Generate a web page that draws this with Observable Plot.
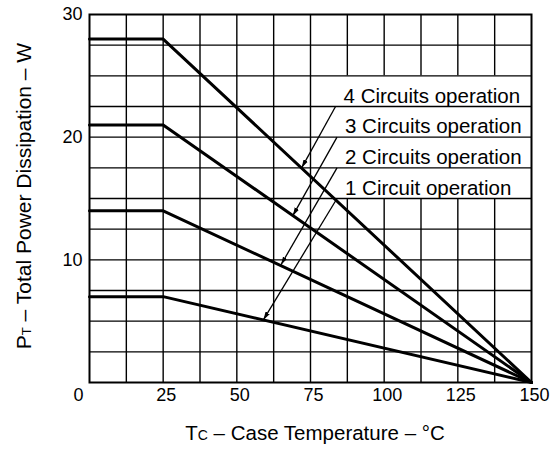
<!DOCTYPE html>
<html><head><meta charset="utf-8">
<script src="https://cdn.jsdelivr.net/npm/d3@7"></script>
<script src="https://cdn.jsdelivr.net/npm/@observablehq/plot@0.6"></script>
<style>body{margin:0;background:#fff;} svg{display:block;}</style>
</head><body><div id="chart"></div>
<script>
// ---- data ----
const caseTemp = [0, 25, 150];              // °C
const power4 = [28, 28, 0];                 // W, 4 circuits
const power3 = [21, 21, 0];
const power2 = [14, 14, 0];
const power1 = [7, 7, 0];
const seriesNames = ["4 Circuits operation", "3 Circuits operation", "2 Circuits operation", "1 Circuit operation"];
const leaderStartX = [83.5, 84, 84, 84];
const leaderStartY = [22.5, 20, 17.5, 15];
const arrowTipX = [72, 69, 65, 59];
const arrowTipY = [17.5, 13.6, 9.6, 5.1];
const xTicks = [0, 25, 50, 75, 100, 125, 150];
const yTicks = [10, 20, 30];
const xGrid = [12.5, 25, 37.5, 50, 62.5, 75, 87.5, 100, 112.5, 125, 137.5];
const yGrid = [2.5, 5, 7.5, 10, 12.5, 15, 17.5, 20, 22.5, 25, 27.5];

const seriesPower = [power4, power3, power2, power1];
const rows = [];
seriesPower.forEach((arr, s) => arr.forEach((p, i) => rows.push({series: seriesNames[s], t: caseTemp[i], p})));

// vertical grid lines are interrupted behind the label block
const gapLeft = Math.min(...leaderStartX);
const gapBottom = Math.min(...leaderStartY);
const gapTop = Math.max(...leaderStartY) + 2.5;
const vSegs = [];
xGrid.forEach(x => {
  if (x > gapLeft) { vSegs.push({x, y1: 0, y2: gapBottom}); vSegs.push({x, y1: gapTop, y2: 30}); }
  else vSegs.push({x, y1: 0, y2: 30});
});

const plot = Plot.plot({
  width: 560, height: 451,
  marginLeft: 89, marginRight: 29, marginTop: 14, marginBottom: 69,
  style: {fontFamily: "'Liberation Sans', Arial, sans-serif", fontSize: "18px", color: "black", background: "white"},
  x: {domain: [0, 150], label: null},
  y: {domain: [0, 30], label: null},
  marks: [
    Plot.ruleX(vSegs, {x: "x", y1: "y1", y2: "y2", stroke: "black", strokeWidth: 1.4}),
    Plot.ruleY(yGrid, {stroke: "black", strokeWidth: 1.4}),
    Plot.frame({stroke: "black", strokeWidth: 2}),
    Plot.line(rows, {x: "t", y: "p", z: "series", stroke: "black", strokeWidth: 3}),
    Plot.link(seriesNames, {x1: (d, i) => leaderStartX[i], y1: (d, i) => leaderStartY[i],
      x2: (d, i) => arrowTipX[i], y2: (d, i) => arrowTipY[i], stroke: "black", strokeWidth: 1.3, markerEnd: "arrow"}),
    Plot.text(seriesNames, {x: (d, i) => leaderStartX[i], y: (d, i) => leaderStartY[i], text: d => d,
      textAnchor: "start", lineAnchor: "bottom", dx: 8, dy: -4, fontSize: 20.5}),
    Plot.axisX(xTicks.filter(d => d > 0), {tickSize: 0, tickPadding: 6, dx: 3, fontSize: 18, label: null}),
    Plot.axisX(xTicks.filter(d => d === 0), {tickSize: 0, tickPadding: 6, dx: -11, fontSize: 18, label: null}),
    Plot.axisY(yTicks, {tickSize: 0, tickPadding: 7, fontSize: 18, label: null})
  ]
});

// filled arrowheads
plot.querySelectorAll("marker").forEach(m => {
  m.setAttribute("fill", "black");
  m.setAttribute("stroke", "none");
  m.setAttribute("markerUnits", "userSpaceOnUse");
  m.setAttribute("markerWidth", "16");
  m.setAttribute("markerHeight", "16");
  m.setAttribute("viewBox", "-8 -8 16 16");
  m.innerHTML = '<path d="M-12,-3.5L0,0L-12,3.5Z"/>';
});

const svg = d3.select(plot);
const yt = svg.append("text")
  .attr("transform", "translate(31,196) rotate(-90)")
  .attr("text-anchor", "middle").attr("font-size", 21).attr("fill", "black");
yt.append("tspan").text("P");
yt.append("tspan").attr("font-size", 13).text("T");
yt.append("tspan").text(" – Total Power Dissipation – W");

const xt = svg.append("text")
  .attr("x", 315).attr("y", 440)
  .attr("text-anchor", "middle").attr("font-size", 20.5).attr("fill", "black");
xt.append("tspan").text("T");
xt.append("tspan").attr("font-size", 14).text("C");
xt.append("tspan").text(" – Case Temperature – °C");

document.getElementById("chart").appendChild(plot);
</script>
</body></html>
